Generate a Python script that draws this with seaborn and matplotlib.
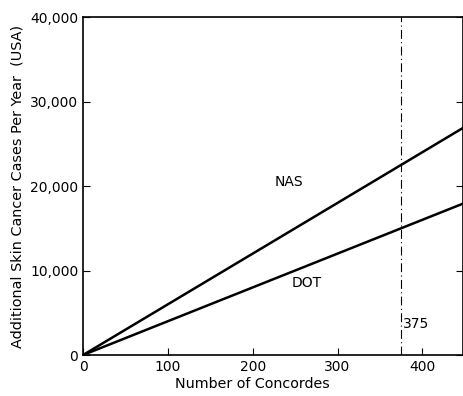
import matplotlib
matplotlib.use("Agg")
import matplotlib.pyplot as plt
import numpy as np
import pandas as pd
import seaborn as sns

# data
concordes = [0, 450]
nas_cases = [0, 27000]
dot_cases = [0, 18000]
marker_x = 375
x_ticks = [0, 100, 200, 300, 400]
y_ticks = [0, 10000, 20000, 30000, 40000]

df = pd.DataFrame({
    "Concordes": concordes * 2,
    "Cases": nas_cases + dot_cases,
    "Estimate": ["NAS"] * 2 + ["DOT"] * 2,
})

sns.set_theme(style="ticks")
plt.rcParams["font.family"] = ["DejaVu Sans"]
plt.rcParams["text.color"] = "black"

fig = plt.figure(figsize=(4.64, 3.96), dpi=100)
ax = fig.add_axes([0.179, 0.1035, 0.819, 0.8535])

sns.lineplot(data=df, x="Concordes", y="Cases", units="Estimate", estimator=None,
             color="black", linewidth=1.8, ax=ax, legend=False)

ax.axvline(marker_x, color="black", linewidth=0.8, linestyle=(0, (8, 3, 1, 3)))

ax.set_xlim(0, 448)
ax.set_ylim(0, 40000)
ax.set_xticks(x_ticks)
ax.set_yticks(y_ticks)
ax.set_yticklabels(["0", "10,000", "20,000", "30,000", "40,000"])
ax.tick_params(direction="in", length=5, width=0.8, labelsize=10, colors="black",
               right=True)
for s in ax.spines.values():
    s.set_color("black")
    s.set_linewidth(1.2)

ax.set_xlabel("Number of Concordes", fontsize=10.3, color="black")
ax.set_ylabel("Additional Skin Cancer Cases Per Year  (USA)", fontsize=10.4, color="black")
ax.xaxis.set_label_coords(0.445, -0.065)

ax.text(226, 19650, "NAS", fontsize=10, va="bottom", color="black")
ax.text(246, 7700, "DOT", fontsize=10, va="bottom", color="black")
ax.text(377.5, 2840, "375", fontsize=10, va="bottom", color="black")

fig.savefig("out.png", dpi=100)
